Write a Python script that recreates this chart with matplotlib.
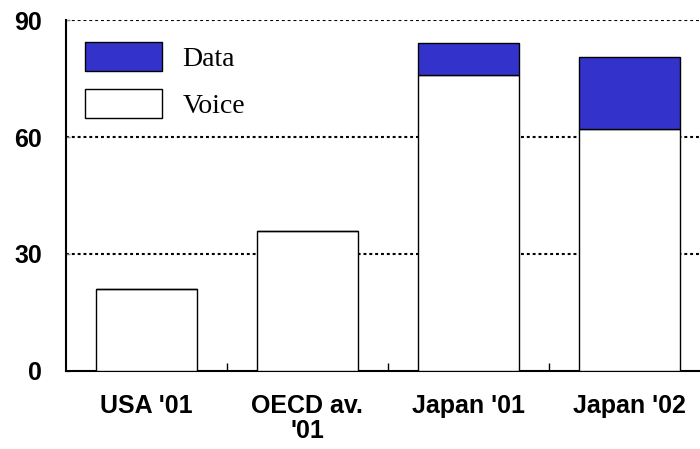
import matplotlib
matplotlib.use("Agg")
import matplotlib.pyplot as plt
import numpy as np

categories = ["USA '01", "OECD av.\n'01", "Japan '01", "Japan '02"]
voice = [21, 36, 76, 62]
data = [0, 0, 8.2, 18.6]
yticks = [0, 30, 60, 90]

blue = "#3333CC"
tick_font = {"family": "Liberation Sans", "weight": "bold"}

fig = plt.figure(figsize=(7.0, 4.49), dpi=100)
ax = fig.add_axes([0.094, 0.174, 0.92, 0.781])

x = np.arange(len(categories))
width = 0.63
ax.bar(x, voice, width, color="white", edgecolor="black", linewidth=1.0, label="Voice", zorder=3)
ax.bar(x, data, width, bottom=voice, color=blue, edgecolor="black", linewidth=1.0, label="Data", zorder=3)

ax.set_xlim(-0.5, len(categories) - 0.5)
ax.set_ylim(0, 90)
ax.set_yticks(yticks)
ax.set_yticklabels([str(v) for v in yticks], fontsize=18, **tick_font)
ax.tick_params(axis="y", direction="in", length=3, width=1.0, pad=17, colors="#888888",
               labelcolor="black")

ax.set_xticks(x)
ax.set_xticklabels(categories, fontsize=18, linespacing=1.05, **tick_font)
ax.tick_params(axis="x", length=0, pad=17)
ax.set_xticks(x[:-1] + 0.5, minor=True)
ax.tick_params(axis="x", which="minor", direction="in", length=6, width=1.0)

for v in [30, 60, 90]:
    ax.axhline(v, color="black", linestyle=(0, (1.4, 1.4)), linewidth=1.5, zorder=1)

ax.spines["top"].set_visible(False)
ax.spines["right"].set_visible(False)
ax.spines["left"].set_linewidth(1.5)
ax.spines["bottom"].set_linewidth(1.5)

h, l = ax.get_legend_handles_labels()
ax.legend(h[::-1], l[::-1], loc="upper left", bbox_to_anchor=(0.0295, 0.937),
          frameon=False, borderpad=0, borderaxespad=0,
          handlelength=2.77, handleheight=1.22, labelspacing=0.6,
          handletextpad=0.75, prop={"family": "Liberation Serif", "size": 20})

fig.savefig("out.png", dpi=100)
